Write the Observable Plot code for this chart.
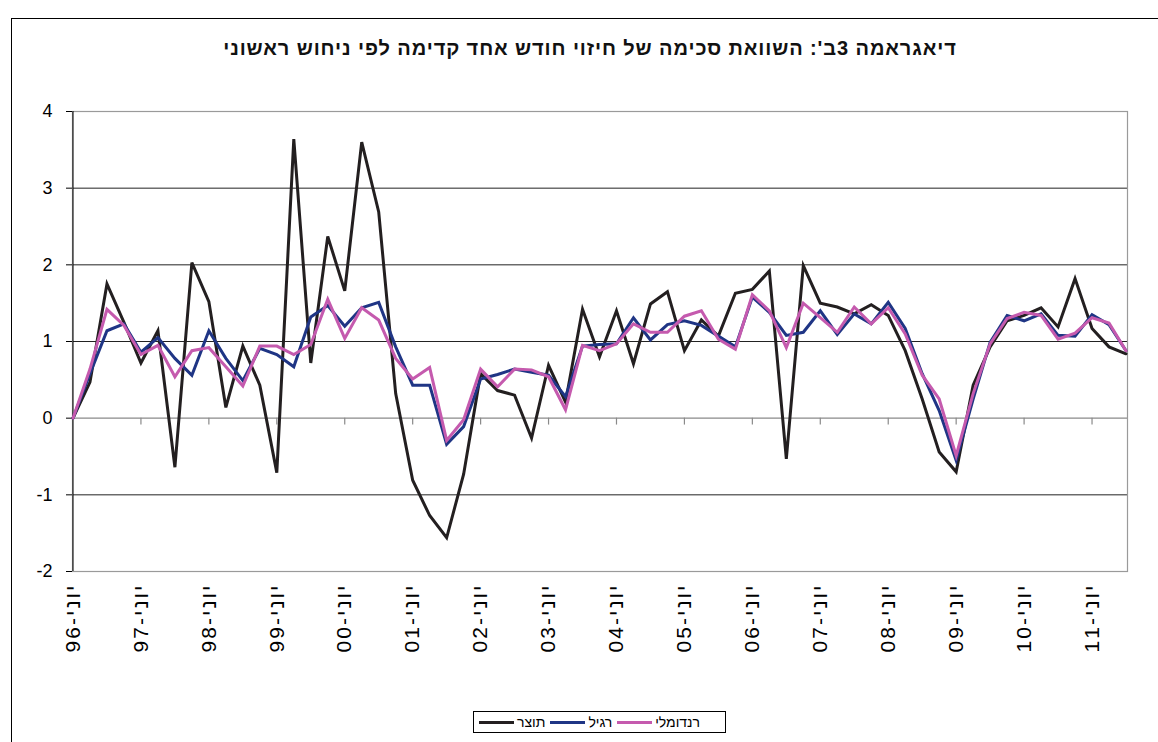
<!DOCTYPE html>
<html>
<head>
<meta charset="utf-8">
<script src="https://cdn.jsdelivr.net/npm/d3@7"></script>
<script src="https://cdn.jsdelivr.net/npm/@observablehq/plot@0.6"></script>
<style>
  html, body { margin: 0; padding: 0; background: #fff; }
  #wrap { position: relative; width: 1158px; height: 742px; overflow: hidden; font-family: "Liberation Sans", Arial, sans-serif; }
  #outer { position: absolute; left: 11px; top: 18px; width: 1170px; height: 760px; border: 1px solid #000; box-sizing: border-box; }
  #title { position: absolute; left: 11px; top: 37px; width: 1158px; text-align: center; font-weight: bold; font-size: 20px; letter-spacing: 0.9px; line-height: 22px; direction: rtl; color: #111; }
  #chart { position: absolute; left: 0; top: 90px; }
  #chart g[aria-label="x-axis tick label"] text { letter-spacing: 2px; }
  #legend { position: absolute; left: 473px; top: 711px; width: 253px; height: 22px; border: 1px solid #000; box-sizing: border-box; display: flex; align-items: center; font-size: 14px; background: #fff; }
  .sw { display: inline-block; height: 3px; width: 35px; margin: 0 3px 0 5px; }
  .lb { direction: rtl; }
</style>
</head>
<body>
<div id="wrap">
  <div id="outer"></div>
  <div id="title">דיאגראמה 3ב': השוואת סכימה של חיזוי חודש אחד קדימה לפי ניחוש ראשוני</div>
  <div id="chart"></div>
  <div id="legend"></div>
</div>
<script>
// Tick labels (every 4th quarter, June of each year)
const yearLabels = ["יוני-96","יוני-97","יוני-98","יוני-99","יוני-00","יוני-01","יוני-02","יוני-03",
                    "יוני-04","יוני-05","יוני-06","יוני-07","יוני-08","יוני-09","יוני-10","יוני-11"];

// Series names
const seriesNames = ["תוצר", "רגיל", "רנדומלי"];
const seriesColors = ["#231f20", "#1f3585", "#c55aae"];

// Series values (quarterly, June 1996 – Dec 2011)
const totzar = [
  0, 0.47, 1.75, 1.25, 0.72, 1.14, -0.64, 2.03, 1.52, 0.14, 0.94, 0.43, -0.71, 3.64, 0.72, 2.37,
  1.66, 3.60, 2.69, 0.32, -0.81, -1.27, -1.56, -0.73, 0.58, 0.36, 0.30, -0.26, 0.69, 0.21, 1.42, 0.80,
  1.40, 0.71, 1.49, 1.65, 0.88, 1.28, 1.07, 1.63, 1.68, 1.92, -0.53, 1.99, 1.50, 1.45, 1.36, 1.48,
  1.34, 0.88, 0.25, -0.44, -0.70, 0.43, 0.93, 1.27, 1.34, 1.44, 1.19, 1.82, 1.17, 0.93, 0.84
];
const ragil = [
  0, 0.58, 1.14, 1.23, 0.86, 1.05, 0.78, 0.56, 1.14, 0.78, 0.49, 0.91, 0.83, 0.67, 1.32, 1.47,
  1.20, 1.44, 1.51, 0.93, 0.43, 0.43, -0.34, -0.11, 0.51, 0.57, 0.64, 0.60, 0.56, 0.28, 0.94, 0.96,
  0.97, 1.31, 1.02, 1.22, 1.27, 1.21, 1.07, 0.93, 1.58, 1.38, 1.08, 1.12, 1.40, 1.09, 1.36, 1.23,
  1.51, 1.17, 0.58, 0.10, -0.55, 0.25, 0.99, 1.34, 1.27, 1.36, 1.08, 1.07, 1.35, 1.22, 0.88
];
const random = [
  0, 0.64, 1.42, 1.21, 0.83, 0.95, 0.54, 0.88, 0.92, 0.67, 0.42, 0.94, 0.94, 0.83, 0.96, 1.55,
  1.04, 1.44, 1.28, 0.78, 0.51, 0.66, -0.29, -0.02, 0.64, 0.41, 0.64, 0.63, 0.54, 0.11, 0.95, 0.88,
  0.97, 1.23, 1.12, 1.12, 1.33, 1.40, 1.03, 0.90, 1.61, 1.40, 0.92, 1.50, 1.31, 1.12, 1.45, 1.23,
  1.44, 1.10, 0.56, 0.25, -0.49, 0.32, 0.97, 1.30, 1.38, 1.34, 1.03, 1.11, 1.31, 1.24, 0.88
];
const yTicks = [-2, -1, 0, 1, 2, 3, 4];

// Build long table
const allSeries = [totzar, ragil, random];
const table = [];
allSeries.forEach((arr, s) => arr.forEach((v, i) => table.push({i, v, s: seriesNames[s]})));
const labelIdx = yearLabels.map((_, k) => k * 4);

const chart = Plot.plot({
  width: 1158,
  height: 610,
  marginLeft: 72,
  marginRight: 31,
  marginTop: 21,
  marginBottom: 129,
  style: {fontFamily: "'Liberation Sans', Arial, sans-serif", fontSize: "17px", color: "#000", background: "transparent"},
  x: {type: "linear", domain: [0, 62], range: [72.5, 1125.5]},
  y: {domain: [-2, 4]},
  color: {domain: seriesNames, range: seriesColors},
  marks: [
    Plot.ruleY([-1, 1, 2, 3], {stroke: "#222", strokeWidth: 1}),
    Plot.frame({stroke: "#9a9a9a", strokeWidth: 1.2}),
    Plot.ruleY([0], {stroke: "#8a8a8a", strokeWidth: 1.2}),
    Plot.ruleX(labelIdx.slice(1), {x: d => d, y1: 0, y2: -0.09, stroke: "#8a8a8a", strokeWidth: 1.2}),
    Plot.ruleX([0], {stroke: "#000", strokeWidth: 1}),
    Plot.axisY({ticks: yTicks, tickSize: 6, tickPadding: 14, fontSize: 18, label: null, tickFormat: d => String(d)}),
    Plot.axisX({ticks: labelIdx, tickSize: 0, tickPadding: 12, tickRotate: -90, fontSize: 21, label: null,
                tickFormat: d => yearLabels[d / 4]}),
    Plot.lineY(table, {x: "i", y: "v", z: "s", stroke: "s", strokeWidth: 3, strokeLinejoin: "miter", strokeMiterlimit: 4})
  ]
});
document.getElementById("chart").appendChild(chart);

// Legend (visual order left to right)
const legend = document.getElementById("legend");
seriesNames.forEach((name, k) => {
  const sw = document.createElement("span");
  sw.className = "sw";
  sw.style.background = seriesColors[k];
  const lb = document.createElement("span");
  lb.className = "lb";
  lb.textContent = name;
  legend.appendChild(sw);
  legend.appendChild(lb);
});
</script>
</body>
</html>
